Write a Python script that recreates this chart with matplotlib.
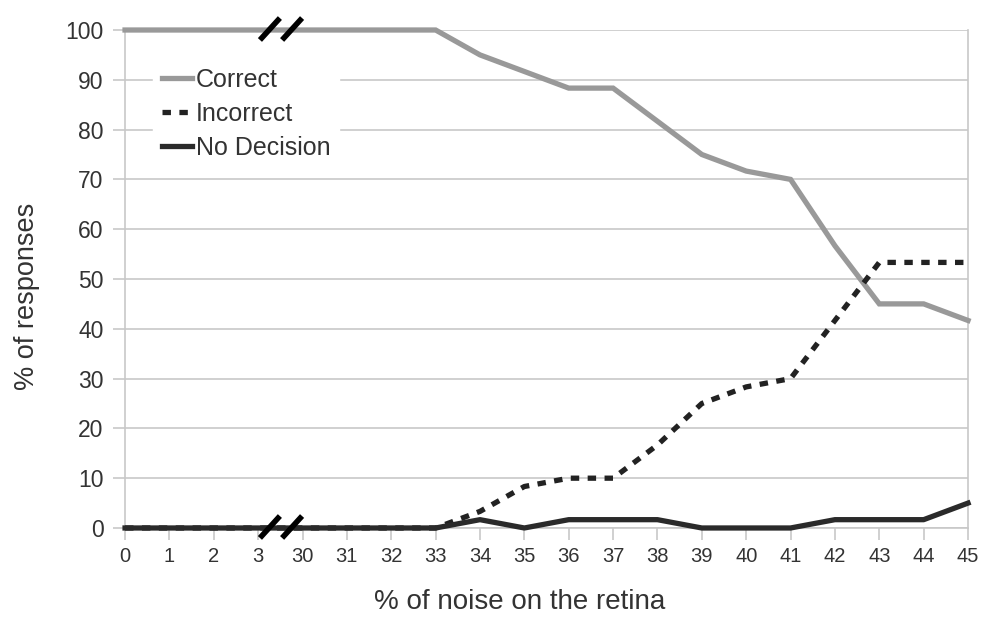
import matplotlib.pyplot as plt

plt.rcParams['font.family'] = ['Liberation Sans', 'DejaVu Sans']

noise_labels = ['0', '1', '2', '3', '30', '31', '32', '33', '34', '35', '36', '37',
                '38', '39', '40', '41', '42', '43', '44', '45']
correct = [100, 100, 100, 100, 100, 100, 100, 100, 95, 91.67, 88.33, 88.33,
           81.67, 75, 71.67, 70, 56.67, 45, 45, 41.67]
incorrect = [0, 0, 0, 0, 0, 0, 0, 0, 3.33, 8.33, 10, 10,
             16.67, 25, 28.33, 30, 41.67, 53.33, 53.33, 53.33]
no_decision = [0, 0, 0, 0, 0, 0, 0, 0, 1.67, 0, 1.67, 1.67,
               1.67, 0, 0, 0, 1.67, 1.67, 1.67, 5]

text_col = '#333333'
grid_col = '#c8c8c8'

fig = plt.figure(figsize=(10.02, 6.33), dpi=100)
ax = fig.add_axes([0.1248, 0.1659, 0.8413, 0.7867])

x = list(range(len(noise_labels)))
ax.plot(x, correct, color='#999999', lw=3.8, label='Correct', clip_on=False,
        solid_joinstyle='miter', zorder=3)
ax.plot(x, incorrect, color='#222222', lw=3.8, ls=(0, (1.6, 1.6)), label='Incorrect',
        clip_on=False, dash_capstyle='butt', zorder=4)
ax.plot(x, no_decision, color='#2a2a2a', lw=3.8, label='No Decision', clip_on=False,
        zorder=5)

# axis break marks between 3 and 30
brk = 3
for y0 in (0, 100):
    for off in (0.04, 0.54):
        ax.plot([brk + off, brk + off + 0.45], [y0 - 2.0, y0 + 2.4], color='black',
                lw=4, solid_capstyle='butt', clip_on=False, zorder=6)

ax.set_xlim(0, len(noise_labels) - 1)
ax.set_ylim(0, 100)
ax.set_xticks(x)
ax.set_xticklabels(noise_labels)
ax.set_yticks(range(0, 101, 10))
ax.yaxis.grid(True, color=grid_col, lw=1.2)
ax.set_axisbelow(True)
ax.tick_params(axis='both', colors=grid_col, labelcolor=text_col,
               length=8.5, width=1.2)
ax.tick_params(axis='x', labelsize=14.5, pad=5)
ax.tick_params(axis='y', labelsize=16.5, pad=7)
for s in ['left', 'right', 'bottom']:
    ax.spines[s].set_color(grid_col)
    ax.spines[s].set_linewidth(1.2)
ax.spines['top'].set_visible(False)

ax.set_xlabel('% of noise on the retina', fontsize=20, color=text_col)
ax.xaxis.set_label_coords(0.4686, -0.1225)
ax.set_ylabel('% of responses', fontsize=19.5, color=text_col)
ax.yaxis.set_label_coords(-0.101, 0.466)

leg = ax.legend(loc='upper left', bbox_to_anchor=(0.033, 0.941), frameon=True,
                fontsize=18, handlelength=1.2, handletextpad=0.18, labelspacing=0.4,
                borderpad=0.35, borderaxespad=0, fancybox=False)
leg.get_frame().set_edgecolor('white')
leg.get_frame().set_facecolor('white')
leg.get_frame().set_alpha(1)
for t in leg.get_texts():
    t.set_color(text_col)

fig.savefig('out.png', dpi=100)
